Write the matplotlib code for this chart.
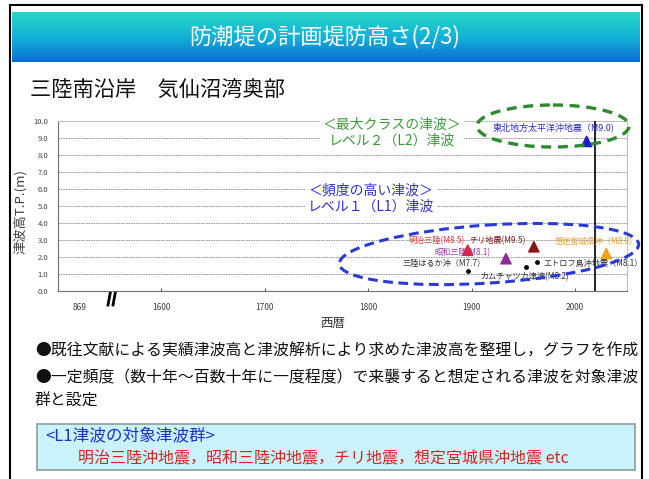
import matplotlib
matplotlib.use('Agg')
import matplotlib.pyplot as plt
import numpy as np
from matplotlib.patches import Ellipse, Rectangle
from matplotlib.colors import LinearSegmentedColormap
from matplotlib.transforms import Bbox, TransformedBbox

plt.rcParams['font.family'] = ['Noto Sans CJK JP', 'DejaVu Sans']
plt.rcParams['axes.unicode_minus'] = False

# --- データ ---
# 三角マーカー（主な津波）
tri_years = [2011, 1896, 1960, 1933, 2030]
tri_heights = [8.8, 2.4, 2.6, 1.9, 2.2]
tri_colors = ['#1c1cd6', '#e8262e', '#8c1418', '#8e2c96', '#f2a21e']

# 黒丸（その他の津波）
dot_years = [1896, 1952, 1963]
dot_heights = [1.2, 1.4, 1.7]

# 地震名ラベル
label_texts = ['東北地方太平洋沖地震（M9.0)', '明治三陸(M8.5)', 'チリ地震(M9.5)',
               '想定宮城県沖（M8.0）', '昭和三陸(M8.1)', '三陸はるか沖（M7.7）',
               'エトロフ島沖地震（M8.1）', 'カムチャツカ津波(M8.2)']
label_x = [1920, 1839, 1898, 1980, 1864, 1833, 1969, 1908]
label_y = [9.6, 2.94, 2.94, 2.94, 2.24, 1.6, 1.6, 0.82]
label_colors = ['#2a2ad0', '#e83a3a', '#7a1a1a', '#f0a030', '#9a35a8',
                '#303030', '#303030', '#303030']

ref_year = 2019   # 縦線
xticks = [1521, 1600, 1700, 1800, 1900, 2000]
xtick_labels = ['869', '1600', '1700', '1800', '1900', '2000']
yticks = [0, 1, 2, 3, 4, 5, 6, 7, 8, 9, 10]

W, H = 649, 479
fig = plt.figure(figsize=(W / 100, H / 100), dpi=100)
fig.patch.set_facecolor('white')

# スライド背景（ピクセル座標）
bg = fig.add_axes([0, 0, 1, 1], zorder=0)
bg.axis('off')
slide_clip = TransformedBbox(Bbox([[10 / W, 0], [641 / W, 1]]), fig.transFigure)

# タイトルバー（グラデーション）
grad = np.linspace(0, 1, 100).reshape(-1, 1)
cmap = LinearSegmentedColormap.from_list('title', ['#24d8c4', '#14b2d8', '#0a6ed4'])
bg.imshow(grad, extent=(12, 640, 62, 12), aspect='auto', cmap=cmap, origin='upper')
bg.text(325, 37, '防潮堤の計画堤防高さ(2/3)', color='white', fontsize=16,
        ha='center', va='center')

# 枠線
bg.plot([10, 10], [5, H], color='black', lw=1.5)
bg.plot([642, 642], [5, H], color='black', lw=1.5)
bg.plot([10, 642], [5, 5], color='black', lw=1.5)

bg.text(30, 91, '三陸南沿岸　気仙沼湾奥部', fontsize=15.3, ha='left', va='center', color='#111111')

# 説明文
for txt, yy in [('●既往文献による実績津波高と津波解析により求めた津波高を整理し，グラフを作成', 351),
                ('●一定頻度（数十年～百数十年に一度程度）で来襲すると想定される津波を対象津波', 378),
                ('群と設定', 401)]:
    t = bg.text(35, yy, txt, fontsize=11.4, ha='left', va='center', color='#111111')
    t.set_clip_path(None)
    t.set_clip_box(slide_clip)
    t.set_clip_on(True)

bg.add_patch(Rectangle((37, 424), 598, 46, facecolor='#c9f3fa', edgecolor='#8c9c9c', lw=1.2))
bg.text(45, 437, '<L1津波の対象津波群>', fontsize=12, color='#2030d0', ha='left', va='center')
bg.text(78, 459, '明治三陸沖地震，昭和三陸沖地震，チリ地震，想定宮城県沖地震 etc',
        fontsize=11.5, color='#e02020', ha='left', va='center')

# 軸の省略記号
bg.plot([108, 111], [305, 289], color='black', lw=2)
bg.plot([113, 116], [305, 289], color='black', lw=2)

bg.set_xlim(0, W)
bg.set_ylim(H, 0)

# --- グラフ ---
ax = fig.add_axes([58 / W, 1 - 291 / H, 569 / W, 170 / H], zorder=1)
ax.set_xlim(1500, 2050)
ax.set_ylim(0, 10)
ax.set_yticks(yticks)
ax.set_yticklabels([f'{v:.1f}' for v in yticks])
ax.set_xticks(xticks)
ax.set_xticklabels(xtick_labels)
ax.xaxis.get_major_ticks()[0].tick1line.set_visible(False)
ax.tick_params(axis='y', length=0, pad=7, labelsize=5.5, labelcolor='#404040')
ax.tick_params(axis='x', direction='in', length=2, pad=9, labelsize=6,
               labelcolor='#404040', color='#606060')
ax.grid(axis='y', linestyle=(0, (2, 1)), linewidth=0.6, color='#8c8c8c')
for s in ['left', 'bottom']:
    ax.spines[s].set_color('#707070')
for s in ['top', 'right']:
    ax.spines[s].set_color('#c0c0c0')

ax.set_ylabel('津波高T.P.(m)', fontsize=9.5, color='#404040')
ax.yaxis.set_label_coords(-0.055, 0.47)
ax.set_xlabel('西暦', fontsize=9, color='#333333')
ax.xaxis.set_label_coords(0.483, -0.15)

ax.axvline(ref_year, color='black', lw=1.2, zorder=3)

ax.scatter(tri_years, tri_heights, marker='^', s=55, c=tri_colors, zorder=4, clip_on=False)
ax.scatter(dot_years, dot_heights, s=6, c='black', zorder=4)

for i, (txt, xx, yy, col) in enumerate(zip(label_texts, label_x, label_y, label_colors)):
    t = ax.text(xx, yy, txt, color=col, fontsize=6.5 if i == 0 else 5.9,
                ha='left', va='center', zorder=4)
    t.set_clip_path(None)
    t.set_clip_box(slide_clip)
    t.set_clip_on(True)

ax.text(1823, 9.3, '＜最大クラスの津波＞\nレベル２（L2）津波', color='#3c9a3c', fontsize=10,
        ha='center', va='center', linespacing=1.15, zorder=3,
        bbox=dict(boxstyle='square,pad=0.2', fc='white', ec='none'))
ax.text(1803, 5.45, '＜頻度の高い津波＞\nレベル１（L1）津波', color='#3030d0', fontsize=10,
        ha='center', va='center', linespacing=1.15, zorder=3,
        bbox=dict(boxstyle='square,pad=0.2', fc='white', ec='none'))

# 楕円（ピクセル座標）
ax.add_patch(Ellipse((553, 126), 152, 42, fill=False, ec='#2e8a2e', lw=2.4,
                     ls=(0, (3, 2)), transform=bg.transData, clip_on=False, zorder=5))
ax.add_patch(Ellipse((489, 254), 300, 58, angle=-3.8, fill=False, ec='#2a3ad8', lw=2.2,
                     ls=(0, (3.2, 1.8)), transform=bg.transData, clip_on=False, zorder=5))

fig.savefig('out.png', dpi=100)
